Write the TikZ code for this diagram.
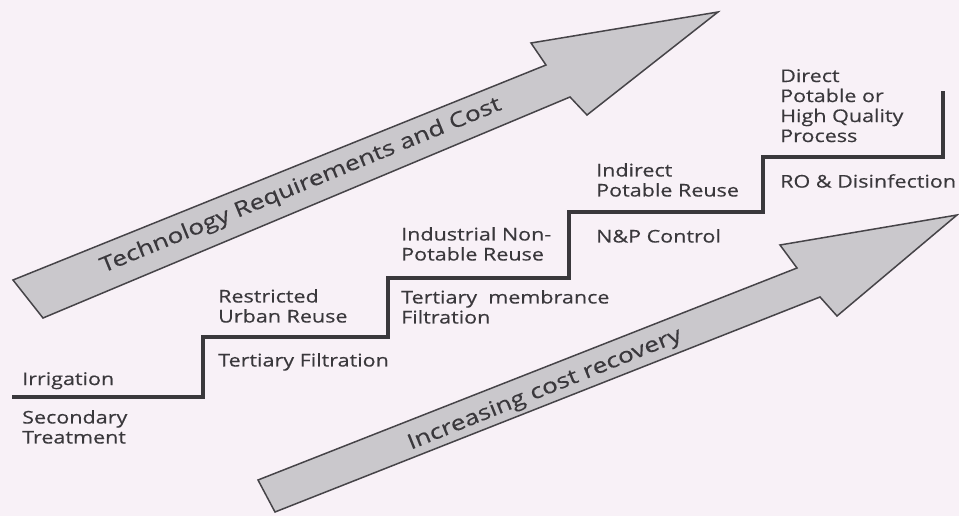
\documentclass[tikz,border=0pt]{standalone}
\usepackage{fontspec}
\setmainfont{Open Sans}
\newfontfamily\lblfont[FakeStretch=1.23,FakeBold=0.4]{Open Sans}
\newfontfamily\arrfont[FakeStretch=1.25,FakeBold=0.3]{Open Sans}
\definecolor{paper}{RGB}{248,241,247}
\definecolor{ink}{RGB}{58,56,60}
\definecolor{arrowfill}{RGB}{202,200,204}
\definecolor{arrowline}{RGB}{70,68,72}
\begin{document}
\begin{tikzpicture}[x=1pt,y=-1pt,
  lbl/.style={anchor=north west,inner sep=0pt,align=left,text=ink,
    font=\lblfont\fontsize{17.5}{20}\selectfont},
  arrowtxt/.style={inner sep=0pt,text=ink,font=\arrfont\fontsize{21}{23}\selectfont},
  bigarrow/.style={fill=arrowfill,draw=arrowline,line width=1.5pt,line join=miter},
  stairs/.style={draw=ink,line width=4pt,line cap=butt,line join=miter}]
\fill[paper] (0,0) rectangle (959,516);
\useasboundingbox (0,0) rectangle (959,516);

% upper arrow
\draw[bigarrow] (13,280) -- (546,65) -- (531,43) -- (718,12) -- (587,115) -- (570,97) -- (43,318) -- cycle;
\node[arrowtxt,rotate=22.3] (tech) at (301,186) {Technology Requirements and Cost};

% lower arrow
\draw[bigarrow] (258,480) -- (797,268) -- (780,245) -- (957,215) -- (837,316) -- (820,297) -- (275,512) -- cycle;
\node[arrowtxt,rotate=22.0] (cost) at (545,390) {Increasing cost recovery};

% staircase
\coordinate (s0) at (12,397);
\coordinate (s1) at (203,397);
\coordinate (s2) at (203,337);
\coordinate (s3) at (388,337);
\coordinate (s4) at (388,278);
\coordinate (s5) at (569,278);
\coordinate (s6) at (569,212);
\coordinate (s7) at (763,212);
\coordinate (s8) at (763,157);
\coordinate (s9) at (943,157);
\coordinate (s10) at (943,91);
\draw[stairs] (s0) -- (s1) -- (s2) -- (s3) -- (s4) -- (s5) -- (s6) -- (s7) -- (s8) -- (s9) -- (s10);

% labels
\node[lbl] (irr) at (22,372) {Irrigation};
\node[lbl] (sec) at (22,410) {Secondary\\Treatment};
\node[lbl] (rur) at (218,289) {Restricted\\Urban Reuse};
\node[lbl] (tf) at (218,353) {Tertiary Filtration};
\node[lbl] (inp) at (401,227) {Industrial Non-\\Potable Reuse};
\node[lbl] (tmf) at (401,290) {Tertiary\ \ membrance\\Filtration};
\node[lbl] (ipr) at (596,163) {Indirect\\Potable Reuse};
\node[lbl] (npc) at (596,229) {N\&P Control};
\node[lbl] (dpr) at (780,69) {Direct\\Potable or\\High Quality\\Process};
\node[lbl] (rod) at (780,174) {RO \& Disinfection};
\end{tikzpicture}
\end{document}
